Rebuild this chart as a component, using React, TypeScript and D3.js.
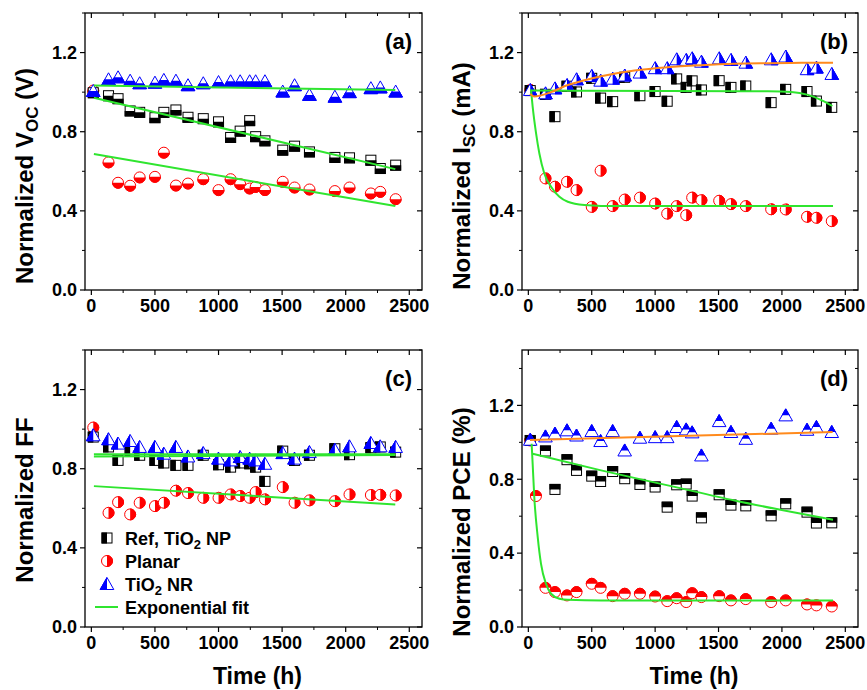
import * as d3 from "d3";

// time axis shared by every series (hours)
const hours = [15, 60, 135, 210, 305, 380, 500, 570, 665, 760, 880, 1000, 1095, 1170, 1245, 1292, 1365, 1505, 1598, 1715, 1915, 2030, 2198, 2272, 2393];

// (a) Voc
const vocRef = [0.997, null, 0.982, 0.967, 0.905, 0.898, 0.871, 0.898, 0.91, 0.873, 0.866, 0.85, 0.771, 0.803, 0.856, 0.775, 0.754, 0.707, 0.727, 0.698, 0.67, 0.668, 0.656, 0.614, 0.631];
const vocPlanar = [1.008, null, 0.645, 0.542, 0.527, 0.569, 0.572, 0.694, 0.528, 0.538, 0.56, 0.505, 0.56, 0.535, 0.513, 0.521, 0.505, 0.547, 0.518, 0.508, 0.5, 0.518, 0.488, 0.496, 0.459];
const vocNR = [1.006, null, 1.065, 1.075, 1.058, 1.045, 1.048, 1.062, 1.058, 1.035, 1.045, 1.051, 1.055, 1.055, 1.055, 1.055, 1.055, 1.003, 1.035, 0.986, 0.977, 1.0, 1.02, 1.024, 1.003];

// (b) Isc
const iscRef = [1.008, null, 0.989, 0.876, 1.03, 1.001, 1.07, 0.97, 0.952, 1.075, 0.982, 1.003, 0.954, 1.067, 1.024, 1.057, 1.011, 1.058, 1.024, 1.031, 0.947, 1.014, 1.003, 0.955, 0.923];
const iscPlanar = [1.011, null, 0.564, 0.522, 0.547, 0.505, 0.42, 0.603, 0.424, 0.457, 0.467, 0.437, 0.386, 0.424, 0.378, 0.467, 0.454, 0.451, 0.434, 0.424, 0.408, 0.407, 0.37, 0.365, 0.348];
const iscNR = [1.011, null, 0.994, 1.019, 1.036, 1.065, 1.082, 1.058, 1.068, 1.084, 1.099, 1.121, 1.121, 1.166, 1.163, 1.171, 1.154, 1.171, 1.163, 1.149, 1.166, 1.18, 1.116, 1.124, 1.092];

// (c) FF
const ffRef = [0.96, null, 0.91, 0.842, 0.889, 0.868, 0.842, 0.829, 0.817, 0.817, 0.868, 0.82, 0.808, 0.829, 0.825, 0.808, 0.736, 0.889, 0.842, 0.868, 0.901, 0.871, 0.906, 0.91, 0.884];
const ffPlanar = [1.008, null, 0.577, 0.631, 0.569, 0.628, 0.611, 0.628, 0.689, 0.677, 0.653, 0.653, 0.67, 0.662, 0.653, 0.682, 0.645, 0.707, 0.628, 0.64, 0.636, 0.67, 0.667, 0.668, 0.665];
const ffNR = [0.969, null, 0.949, 0.927, 0.94, 0.91, 0.91, 0.876, 0.91, 0.862, 0.879, 0.851, 0.842, 0.859, 0.851, 0.842, 0.825, 0.879, 0.851, 0.884, 0.896, 0.913, 0.93, 0.913, 0.91];

// (d) PCE
const pceRef = [1.01, null, 0.953, 0.745, 0.906, 0.848, 0.817, 0.788, 0.842, 0.803, 0.772, 0.758, 0.649, 0.77, 0.774, 0.709, 0.591, 0.716, 0.66, 0.656, 0.602, 0.667, 0.622, 0.563, 0.564];
const pcePlanar = [1.01, 0.709, 0.212, 0.189, 0.171, 0.189, 0.234, 0.212, 0.167, 0.18, 0.18, 0.165, 0.14, 0.156, 0.135, 0.183, 0.162, 0.167, 0.144, 0.151, 0.135, 0.144, 0.122, 0.117, 0.111];
const pceNR = [1.014, null, 1.032, 1.047, 1.065, 1.037, 1.061, 1.007, 1.061, 0.956, 1.025, 1.028, 1.028, 1.083, 1.07, 1.054, 0.929, 1.115, 1.056, 1.019, 1.074, 1.146, 1.068, 1.083, 1.056];

// fitted curves, [hours, value]
const fitVocRef = [[20, 0.972], [2390, 0.611]];
const fitVocPlanar = [[20, 0.687], [2390, 0.424]];
const fitVocNR = [[20, 1.033], [2390, 1.011]];
const fitIscRef = [[13, 1.008], [1100, 1.006], [1890, 1.004], [2074, 1.001], [2206, 0.986], [2311, 0.96], [2398, 0.93]];
const fitIscPlanar = [[21, 1.011], [34, 0.927], [61, 0.792], [87, 0.69], [126, 0.589], [179, 0.522], [245, 0.471], [311, 0.446], [442, 0.429], [574, 0.425], [837, 0.424], [2403, 0.424]];
const fitIscNR = [[13, 0.99], [45, 0.978], [179, 1.0], [311, 1.036], [442, 1.06], [574, 1.08], [837, 1.109], [1100, 1.126], [1363, 1.136], [1627, 1.143], [1890, 1.146], [2153, 1.148], [2403, 1.149]];
const fitFfRef = [[20, 0.862], [2390, 0.869]];
const fitFfPlanar = [[20, 0.712], [2390, 0.619]];
const fitFfNR = [[20, 0.873], [2390, 0.873]];
const fitPceRef = [[34, 0.938], [574, 0.848], [1100, 0.767], [1627, 0.685], [2153, 0.613], [2403, 0.581]];
const fitPcePlanar = [[26, 0.992], [34, 0.884], [47, 0.703], [74, 0.487], [100, 0.342], [139, 0.234], [179, 0.18], [245, 0.153], [311, 0.147], [574, 0.144], [2403, 0.144]];
const fitPceNR = [[13, 1.012], [2400, 1.056]];

const GREEN = "#2fe52f";
const ORANGE = "#ff8a1c";
const FONT = "'Liberation Sans', Arial, sans-serif";

type Half = "top" | "bottom" | "left" | "right";
type Kind = "sq" | "ci" | "tri";

const halfClip: Record<Half, number[]> = {
  top: [-10, -10, 20, 10],
  bottom: [-10, 0, 20, 10],
  left: [-10, -10, 10, 20],
  right: [0, -10, 10, 20],
};

const colorOf: Record<Kind, string> = { sq: "#000000", ci: "#ff0000", tri: "#0000ff" };

function Shape({ kind, ...rest }: any) {
  if (kind === "sq") return <rect x={-5} y={-5} width={10} height={10} {...rest} />;
  if (kind === "ci") return <circle r={5.5} {...rest} />;
  return <path d="M0,-6.5L6.8,5.5L-6.8,5.5Z" {...rest} />;
}

function Marker({ kind, half, x, y }: { kind: Kind; half: Half; x: number; y: number }) {
  const c = colorOf[kind];
  return (
    <g transform={`translate(${x},${y})`}>
      <Shape kind={kind} fill="#fff" stroke={c} strokeWidth={1} />
      <Shape kind={kind} fill={c} stroke={c} strokeWidth={1} clipPath={`url(#half-${half})`} />
    </g>
  );
}

const panels = [
  {
    id: "a", box: [85, 13, 422, 290], yMax: 1.4, halves: ["bottom", "bottom", "bottom"] as Half[],
    ref: vocRef, planar: vocPlanar, nr: vocNR,
    fits: [[fitVocRef, GREEN], [fitVocPlanar, GREEN], [fitVocNR, GREEN]],
    ylab: ["Normalized V", "OC", " (V)"], ylabX: 33, ylabY: 176,
  },
  {
    id: "b", box: [522, 13, 858, 290], yMax: 1.4, halves: ["left", "right", "right"] as Half[],
    ref: iscRef, planar: iscPlanar, nr: iscNR,
    fits: [[fitIscRef, GREEN], [fitIscPlanar, GREEN], [fitIscNR, ORANGE]],
    ylab: ["Normalized I", "SC", " (mA)"], ylabX: 470, ylabY: 176,
  },
  {
    id: "c", box: [85, 350, 422, 627], yMax: 1.4, halves: ["left", "right", "left"] as Half[],
    ref: ffRef, planar: ffPlanar, nr: ffNR,
    fits: [[fitFfRef, GREEN], [fitFfPlanar, GREEN], [fitFfNR, GREEN]],
    ylab: ["Normalized FF", "", ""], ylabX: 33, ylabY: 500,
  },
  {
    id: "d", box: [522, 350, 858, 627], yMax: 1.5, halves: ["top", "top", "top"] as Half[],
    ref: pceRef, planar: pcePlanar, nr: pceNR,
    fits: [[fitPceRef, GREEN], [fitPcePlanar, GREEN], [fitPceNR, ORANGE]],
    ylab: ["Normalized PCE (%)", "", ""], ylabX: 470, ylabY: 522,
  },
];

function Panel({ p }: { p: (typeof panels)[number] }) {
  const [l, t, r, b] = p.box;
  const x = d3.scaleLinear().domain([-50, 2600]).range([l, r]);
  const y = d3.scaleLinear().domain([0, p.yMax]).range([b, t]);
  const xMajor = d3.range(0, 2501, 500);
  const xMinor = d3.range(250, 2600, 500);
  const yMajor = [0, 0.4, 0.8, 1.2];
  const yMinor = d3.range(0.2, p.yMax + 0.001, 0.4);
  const line = d3.line<number[]>().x((d) => x(d[0])).y((d) => y(d[1])).curve(d3.curveMonotoneX);
  const series: [number[], Kind, Half][] = [
    [p.planar as number[], "ci", p.halves[1]],
    [p.ref as number[], "sq", p.halves[0]],
    [p.nr as number[], "tri", p.halves[2]],
  ];
  return (
    <g>
      {series.map(([vals, kind, half], si) =>
        vals.map((v, i) =>
          v == null ? null : <Marker key={`${si}-${i}`} kind={kind} half={half} x={x(hours[i])} y={y(v)} />
        )
      )}
      {p.fits.map(([pts, col], i) => (
        <path key={i} d={line(pts as number[][]) || ""} fill="none" stroke={col as string} strokeWidth={2} />
      ))}
      <rect x={l} y={t} width={r - l} height={b - t} fill="none" stroke="#000" strokeWidth={1.3} />
      {xMajor.map((v) => (
        <g key={`xm${v}`}>
          <line x1={x(v)} x2={x(v)} y1={b} y2={b + 5} stroke="#000" strokeWidth={1.2} />
          <line x1={x(v)} x2={x(v)} y1={t} y2={t + 5} stroke="#000" strokeWidth={1.2} />
          <text x={x(v)} y={b + 22} textAnchor="middle" fontSize={18} fontWeight="bold" fontFamily={FONT}>
            {v}
          </text>
        </g>
      ))}
      {xMinor.map((v) => (
        <g key={`xn${v}`}>
          <line x1={x(v)} x2={x(v)} y1={b} y2={b + 3} stroke="#000" strokeWidth={1} />
          <line x1={x(v)} x2={x(v)} y1={t} y2={t + 3} stroke="#000" strokeWidth={1} />
        </g>
      ))}
      {yMajor.map((v) => (
        <g key={`ym${v}`}>
          <line x1={l - 5} x2={l} y1={y(v)} y2={y(v)} stroke="#000" strokeWidth={1.2} />
          <line x1={r - 5} x2={r} y1={y(v)} y2={y(v)} stroke="#000" strokeWidth={1.2} />
          <text x={l - 8} y={y(v)} dy="0.35em" textAnchor="end" fontSize={18} fontWeight="bold" fontFamily={FONT}>
            {v.toFixed(1)}
          </text>
        </g>
      ))}
      {yMinor.map((v) => (
        <g key={`yn${v}`}>
          <line x1={l - 3} x2={l} y1={y(v)} y2={y(v)} stroke="#000" strokeWidth={1} />
          <line x1={r - 3} x2={r} y1={y(v)} y2={y(v)} stroke="#000" strokeWidth={1} />
        </g>
      ))}
      <text x={r - 10} y={t + 36} textAnchor="end" fontSize={22} fontWeight="bold" fontFamily={FONT}>
        ({p.id})
      </text>
      <text
        transform={`translate(${p.ylabX},${p.ylabY}) rotate(-90)`}
        textAnchor="middle"
        fontSize={24}
        fontWeight="bold"
        fontFamily={FONT}
      >
        {p.ylab[0]}
        {p.ylab[1] && (
          <tspan dy={5} fontSize={17}>
            {p.ylab[1]}
          </tspan>
        )}
        {p.ylab[2] && <tspan dy={-5}>{p.ylab[2]}</tspan>}
      </text>
      {p.box[3] > 600 && (
        <text x={(l + r) / 2 + 4} y={684} textAnchor="middle" fontSize={23} fontWeight="bold" fontFamily={FONT}>
          Time (h)
        </text>
      )}
    </g>
  );
}

function Legend() {
  const rows: [Kind | "fit", Half, string, string, string][] = [
    ["sq", "left", "Ref, TiO", "2", " NP"],
    ["ci", "right", "Planar", "", ""],
    ["tri", "left", "TiO", "2", " NR"],
    ["fit", "left", "Exponential fit", "", ""],
  ];
  const y0 = 538;
  const dy = 23;
  return (
    <g>
      {rows.map(([kind, half, a, sub, c], i) => (
        <g key={i}>
          {kind === "fit" ? (
            <line x1={95} x2={118} y1={y0 + i * dy} y2={y0 + i * dy} stroke={GREEN} strokeWidth={2} />
          ) : (
            <Marker kind={kind as Kind} half={half} x={107} y={y0 + i * dy} />
          )}
          <text x={125} y={y0 + i * dy + 6.5} fontSize={18} fontWeight="bold" fontFamily={FONT}>
            {a}
            {sub && (
              <tspan dy={4} fontSize={13}>
                {sub}
              </tspan>
            )}
            {c && <tspan dy={-4}>{c}</tspan>}
          </text>
        </g>
      ))}
    </g>
  );
}

export default function App() {
  return (
    <svg width={867} height={690} style={{ position: "absolute", left: 0, top: 0, background: "#fff" }}>
      <defs>
        {(Object.keys(halfClip) as Half[]).map((h) => (
          <clipPath id={`half-${h}`} key={h}>
            <rect x={halfClip[h][0]} y={halfClip[h][1]} width={halfClip[h][2]} height={halfClip[h][3]} />
          </clipPath>
        ))}
      </defs>
      {panels.map((p) => (
        <Panel key={p.id} p={p} />
      ))}
      <Legend />
    </svg>
  );
}
